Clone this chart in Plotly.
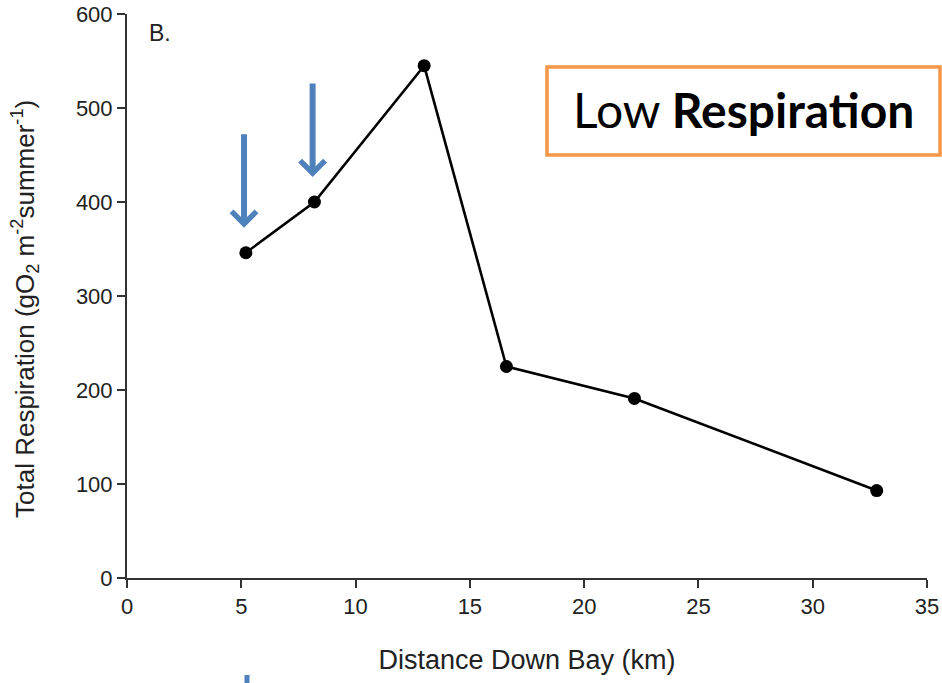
import plotly.graph_objects as go

distance_km = [5.2, 8.2, 13.0, 16.6, 22.2, 32.8]
respiration = [346, 400, 545, 225, 191, 93]
x_ticks = [0, 5, 10, 15, 20, 25, 30, 35]
y_ticks = [0, 100, 200, 300, 400, 500, 600]
arrow_targets = [0, 1]  # indices of points marked by arrows

FONT = "Liberation Sans, Arial, sans-serif"
BLUE = "#4F81BD"
TXT = "#222222"

# plot-area geometry (pixels) used to place paper-referenced decorations
L, R, T, B = 127, 15, 14, 105
PW, PH = 942 - L - R, 683 - T - B


def px_x(px):
    return (px - L) / PW


def px_y(py):
    return (683 - B - py) / PH


fig = go.Figure()
fig.add_trace(go.Scatter(
    x=distance_km, y=respiration, mode="lines+markers",
    line=dict(color="black", width=2.6),
    marker=dict(color="black", size=13),
    showlegend=False,
))

axis_common = dict(
    showgrid=False, zeroline=False, showline=True, linecolor="#333333", linewidth=2,
    ticks="outside", ticklen=8, tickwidth=2, tickcolor="#333333", automargin=False,
    tickfont=dict(family=FONT, size=22, color=TXT),
)

fig.update_xaxes(range=[0, 35], tickvals=x_ticks, **axis_common,
                 title=dict(text="Distance Down Bay (km)", font=dict(family=FONT, size=27, color=TXT), standoff=32))
fig.update_yaxes(range=[0, 600], tickvals=y_ticks, **axis_common)

# y-axis title
fig.add_annotation(x=px_x(25), y=px_y(309), xref="paper", yref="paper",
                   xanchor="center", yanchor="middle", textangle=-90, showarrow=False,
                   text="Total Respiration (gO<sub>2</sub> m<sup>-2</sup>summer<sup>-1</sup>)",
                   font=dict(family=FONT, size=26, color=TXT))

for i in arrow_targets:
    fig.add_annotation(
        x=distance_km[i] - 0.08, y=respiration[i], xref="x", yref="y",
        ax=0, ay=-120, showarrow=True, arrowhead=4, arrowsize=0.8, arrowwidth=6,
        arrowcolor=BLUE, standoff=25, text="",
    )

fig.add_annotation(x=px_x(147), y=px_y(18), xref="paper", yref="paper", xanchor="left", yanchor="top",
                   text="B.", showarrow=False, font=dict(family=FONT, size=23, color=TXT))

# "Low Respiration" box
fig.add_shape(type="rect", xref="paper", yref="paper",
              x0=px_x(547), x1=px_x(940), y0=px_y(155), y1=px_y(67),
              line=dict(color="#F79646", width=3.5), fillcolor="white", layer="above")
fig.add_annotation(x=px_x(743.5), y=px_y(109), xref="paper", yref="paper",
                   xanchor="center", yanchor="middle",
                   text="Low <b>Respiration</b>", showarrow=False,
                   font=dict(family="Lato, Carlito, sans-serif", size=48, color="black"))

# cut-off blue mark at bottom edge
fig.add_shape(type="line", xref="paper", yref="paper",
              x0=px_x(247), x1=px_x(247), y0=px_y(675), y1=px_y(690),
              line=dict(color=BLUE, width=5))

fig.update_layout(
    width=942, height=683,
    margin=dict(l=L, r=R, t=T, b=B, autoexpand=False),
    plot_bgcolor="white", paper_bgcolor="white",
)

fig.write_html("out.html", config={"displayModeBar": False},
               post_script="document.body.style.margin='0';")
